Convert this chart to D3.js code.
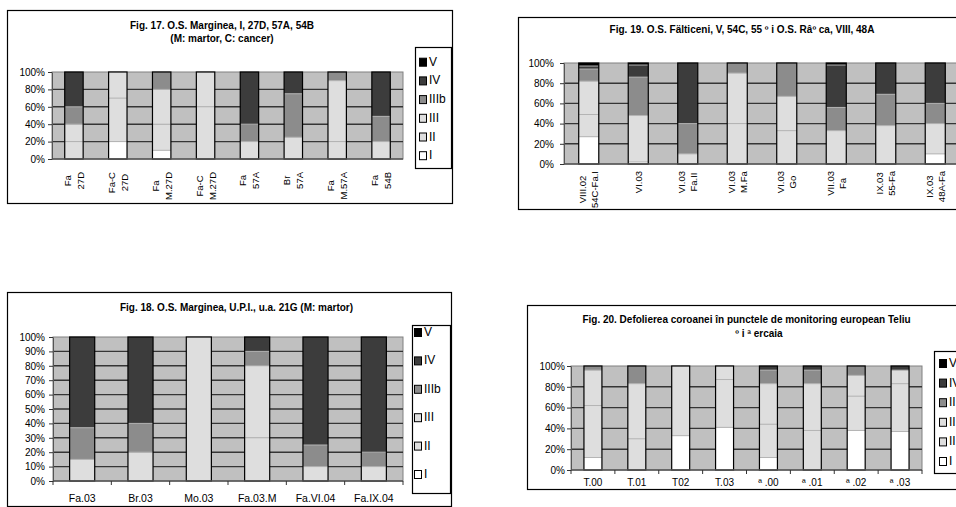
<!DOCTYPE html>
<html>
<head>
<meta charset="utf-8">
<script src="https://cdn.jsdelivr.net/npm/d3@7"></script>
<style>
  body { margin: 0; background: #fff; }
  svg { display: block; }
  text { font-family: "Liberation Sans", Arial, sans-serif; fill: #000; }
</style>
</head>
<body>
<div id="chart"></div>
<script>
// DATA //

const classes = ["I", "II", "III", "IIIb", "IV", "V"];
const classColors = ["#ffffff", "#dedede", "#dedede", "#8c8c8c", "#3c3c3c", "#000000"];

// Fig. 17 (labels split on "|" into two lines)
const fig17Cats = ["Fa|27D", "Fa-C|27D", "Fa|M.27D", "Fa-C|M.27D", "Fa|57A", "Br|57A", "Fa|M.57A", "Fa|54B"];
const fig17I    = [0, 20, 10, 0, 0, 0, 0, 0];
const fig17II   = [20, 50, 30, 60, 0, 0, 20, 0];
const fig17III  = [20, 30, 40, 40, 20, 25, 70, 20];
const fig17IIIb = [20, 0, 20, 0, 20, 50, 10, 29];
const fig17IV   = [40, 0, 0, 0, 60, 25, 0, 51];
const fig17V    = [0, 0, 0, 0, 0, 0, 0, 0];

// Fig. 19
const fig19Cats = ["VIII.02|54C-Fa.I", "VI.03", "VI.03|Fa.II", "VI.03|M.Fa", "VI.03|Go", "VII.03|Fa", "IX.03|55-Fa", "IX.03|48A-Fa"];
const fig19I    = [27, 2, 0, 0, 0, 0, 0, 10];
const fig19II   = [22, 0, 0, 40, 33, 0, 0, 0];
const fig19III  = [33, 46, 10, 50, 34, 33, 38, 30];
const fig19IIIb = [12, 38, 30, 10, 33, 23, 31, 20];
const fig19IV   = [3, 12, 60, 0, 0, 42, 31, 40];
const fig19V    = [3, 2, 0, 0, 0, 2, 0, 0];

// Fig. 18
const fig18Cats = ["Fa.03", "Br.03", "Mo.03", "Fa.03.M", "Fa.VI.04", "Fa.IX.04"];
const fig18I    = [0, 0, 0, 0, 0, 0];
const fig18II   = [0, 0, 0, 30, 0, 0];
const fig18III  = [15, 20, 100, 50, 10, 10];
const fig18IIIb = [22, 20, 0, 10, 15, 10];
const fig18IV   = [63, 60, 0, 10, 75, 80];
const fig18V    = [0, 0, 0, 0, 0, 0];

// Fig. 20
const fig20Cats = ["T.00", "T.01", "T02", "T.03", "ª .00", "ª .01", "ª .02", "ª .03"];
const fig20I    = [12, 0, 33, 41, 12, 0, 38, 37];
const fig20II   = [50, 30, 67, 46, 32, 38, 33, 46];
const fig20III  = [34, 53, 0, 13, 39, 45, 20, 13];
const fig20IIIb = [4, 17, 0, 0, 13, 13, 9, 0];
const fig20IV   = [0, 0, 0, 0, 4, 4, 0, 4];
const fig20V    = [0, 0, 0, 0, 0, 0, 0, 0];

// SVG //

const svg = d3.select("#chart").append("svg")
    .attr("width", 956)
    .attr("height", 507);

function drawPanel(p) {
    const g = svg.append("g");

    // outer frame
    g.append("rect")
        .attr("x", p.box[0] + 0.5).attr("y", p.box[1] + 0.5)
        .attr("width", p.box[2] - p.box[0]).attr("height", p.box[3] - p.box[1])
        .attr("fill", "#fff").attr("stroke", "#000").attr("stroke-width", 1.2);

    // title
    p.title.forEach(t => {
        g.append("text")
            .attr("x", t.x).attr("y", t.y)
            .attr("text-anchor", "middle")
            .attr("font-weight", "bold")
            .attr("font-size", p.titleSize)
            .text(t.text);
    });

    // stack the values
    const rows = p.cats.map((c, j) => {
        const o = {cat: c};
        classes.forEach((k, i) => o[k] = p.values[i][j]);
        return o;
    });
    const stacked = d3.stack().keys(classes)(rows);

    const pad = 1 - p.barRatio;
    const x = d3.scaleBand()
        .domain(p.cats)
        .range([p.plot.x0, p.plot.x1])
        .paddingInner(pad)
        .paddingOuter(pad / 2);
    const y = d3.scaleLinear().domain([0, 100]).range([p.plot.y1, p.plot.y0]);
    const ticks = d3.range(0, 101, p.yStep);

    // plot background
    g.append("rect")
        .attr("x", p.plot.x0).attr("y", p.plot.y0)
        .attr("width", p.plot.x1 - p.plot.x0).attr("height", p.plot.y1 - p.plot.y0)
        .attr("fill", "#c0c0c0").attr("stroke", "#808080");

    // gridlines
    g.append("g").selectAll("line")
        .data(ticks.filter(t => t > 0 && t < 100))
        .join("line")
        .attr("x1", p.plot.x0).attr("x2", p.plot.x1)
        .attr("y1", d => y(d)).attr("y2", d => y(d))
        .attr("stroke", "#353535").attr("stroke-width", 1.4);

    // bars
    const bars = g.append("g");
    stacked.forEach((layer, li) => {
        bars.selectAll(null)
            .data(layer.filter(d => d[1] > d[0]))
            .join("rect")
            .attr("x", d => x(d.data.cat))
            .attr("width", x.bandwidth())
            .attr("y", d => y(d[1]))
            .attr("height", d => y(d[0]) - y(d[1]))
            .attr("fill", classColors[li]);
    });
    // thin separators between segments
    stacked.forEach(layer => {
        bars.selectAll(null)
            .data(layer.filter(d => d[1] > d[0] && d[1] < 100))
            .join("line")
            .attr("x1", d => x(d.data.cat)).attr("x2", d => x(d.data.cat) + x.bandwidth())
            .attr("y1", d => y(d[1])).attr("y2", d => y(d[1]))
            .attr("stroke", "#b4b4b4").attr("stroke-width", 1);
    });
    // bar outline
    bars.selectAll(null)
        .data(p.cats)
        .join("rect")
        .attr("x", d => x(d)).attr("width", x.bandwidth())
        .attr("y", y(100)).attr("height", y(0) - y(100))
        .attr("fill", "none").attr("stroke", "#000").attr("stroke-width", 1.2);

    // y axis
    const yAxis = g.append("g")
        .attr("transform", `translate(${p.plot.x0},0)`)
        .call(d3.axisLeft(y)
            .tickValues(ticks)
            .tickFormat(d => d + "%")
            .tickSize(4)
            .tickSizeOuter(0)
            .tickPadding(p.tickPad));
    yAxis.selectAll("text").attr("font-size", p.tickSize).attr("font-family", null);
    yAxis.select(".domain").attr("stroke", "#555");
    yAxis.selectAll(".tick line").attr("stroke", "#333");

    // x axis line
    g.append("line")
        .attr("x1", p.plot.x0).attr("x2", p.plot.x1)
        .attr("y1", p.plot.y1).attr("y2", p.plot.y1)
        .attr("stroke", "#555").attr("stroke-width", 1.5);

    if (p.xMode === "rot") {
        p.cats.forEach(c => {
            const lines = c.split("|");
            const lg = g.append("g")
                .attr("transform", `translate(${x(c) + x.bandwidth() / 2},${p.labelTop}) rotate(-90)`);
            const ts = lines.map((s, i) => lg.append("text")
                .attr("font-size", p.xSize)
                .attr("text-anchor", "middle")
                .attr("dominant-baseline", "central")
                .attr("y", (i - (lines.length - 1) / 2) * p.lineGap)
                .text(s));
            const maxLen = d3.max(ts, t => t.node().getComputedTextLength());
            ts.forEach(t => t.attr("x", -maxLen / 2));
        });
    } else {
        const step = x.step();
        g.append("g").selectAll("line")
            .data(d3.range(p.cats.length + 1))
            .join("line")
            .attr("x1", i => p.plot.x0 + i * step).attr("x2", i => p.plot.x0 + i * step)
            .attr("y1", p.plot.y1).attr("y2", p.plot.y1 + 4)
            .attr("stroke", "#333");
        g.append("g").selectAll("text")
            .data(p.cats)
            .join("text")
            .attr("x", d => x(d) + x.bandwidth() / 2)
            .attr("y", p.labelY)
            .attr("text-anchor", "middle")
            .attr("font-size", p.xSize)
            .text(d => d);
    }

    // legend (the Fig. 19 one lies off the page, so it is skipped)
    const L = p.legend;
    if (!L) return;
    g.append("rect")
        .attr("x", L.box[0] + 0.5).attr("y", L.box[1] + 0.5)
        .attr("width", L.box[2] - L.box[0]).attr("height", L.box[3] - L.box[1])
        .attr("fill", "#fff").attr("stroke", "#000").attr("stroke-width", 1.2);
    classes.slice().reverse().forEach((c, i) => {
        const cy = L.first + i * L.gap;
        g.append("rect")
            .attr("x", L.sx + 0.5).attr("y", cy - 4 + 0.5)
            .attr("width", 7).attr("height", 8)
            .attr("fill", classColors[classes.indexOf(c)])
            .attr("stroke", "#000");
        g.append("text")
            .attr("x", L.tx).attr("y", cy)
            .attr("dominant-baseline", "central")
            .attr("font-size", L.size)
            .text(c);
    });
}

drawPanel({
    box: [7, 10, 452, 203],
    title: [{text: "Fig. 17. O.S. Marginea, I, 27D, 57A, 54B", x: 222, y: 28.5},
            {text: "(M: martor, C: cancer)", x: 222, y: 41.5}],
    titleSize: 10,
    cats: fig17Cats,
    values: [fig17I, fig17II, fig17III, fig17IIIb, fig17IV, fig17V],
    plot: {x0: 52, x1: 403, y0: 72, y1: 159},
    barRatio: 0.42, yStep: 20, tickPad: 3, tickSize: 10,
    xMode: "rot", labelTop: 172, lineGap: 13, xSize: 9.5,
    legend: {box: [415, 47, 451, 168], first: 61.7, gap: 18.7, sx: 419, tx: 429, size: 12}
});

drawPanel({
    box: [518, 17, 1010, 209],
    title: [{text: "Fig. 19. O.S. Fälticeni, V, 54C, 55 º i O.S. Râº ca, VIII, 48A", x: 742, y: 32.5}],
    titleSize: 10,
    cats: fig19Cats,
    values: [fig19I, fig19II, fig19III, fig19IIIb, fig19IV, fig19V],
    plot: {x0: 564, x1: 960, y0: 63, y1: 164},
    barRatio: 0.405, yStep: 20, tickPad: 6, tickSize: 10,
    xMode: "rot", labelTop: 171, lineGap: 12, xSize: 9.5,
    legend: null
});

drawPanel({
    box: [7, 292, 451, 506],
    title: [{text: "Fig. 18. O.S. Marginea, U.P.I., u.a. 21G (M: martor)", x: 236.5, y: 310.5}],
    titleSize: 10,
    cats: fig18Cats,
    values: [fig18I, fig18II, fig18III, fig18IIIb, fig18IV, fig18V],
    plot: {x0: 53, x1: 403, y0: 337, y1: 481},
    barRatio: 0.43, yStep: 10, tickPad: 4, tickSize: 10,
    xMode: "flat", labelY: 501.5, xSize: 10.5,
    legend: {box: [412, 325, 450, 493], first: 332, gap: 28.4, sx: 414, tx: 424, size: 12}
});

drawPanel({
    box: [527, 305, 1010, 489],
    title: [{text: "Fig. 20. Defolierea coroanei în punctele de monitoring european Teliu", x: 746.5, y: 323},
            {text: "º i ª ercaia", x: 759, y: 337}],
    titleSize: 10,
    cats: fig20Cats,
    values: [fig20I, fig20II, fig20III, fig20IIIb, fig20IV, fig20V],
    plot: {x0: 571, x1: 922, y0: 366, y1: 470},
    barRatio: 0.41, yStep: 20, tickPad: 2, tickSize: 10,
    xMode: "flat", labelY: 485.5, xSize: 10,
    legend: {box: [934, 351, 1010, 473], first: 363, gap: 19.6, sx: 939, tx: 949, size: 12}
});
</script>
</body>
</html>
